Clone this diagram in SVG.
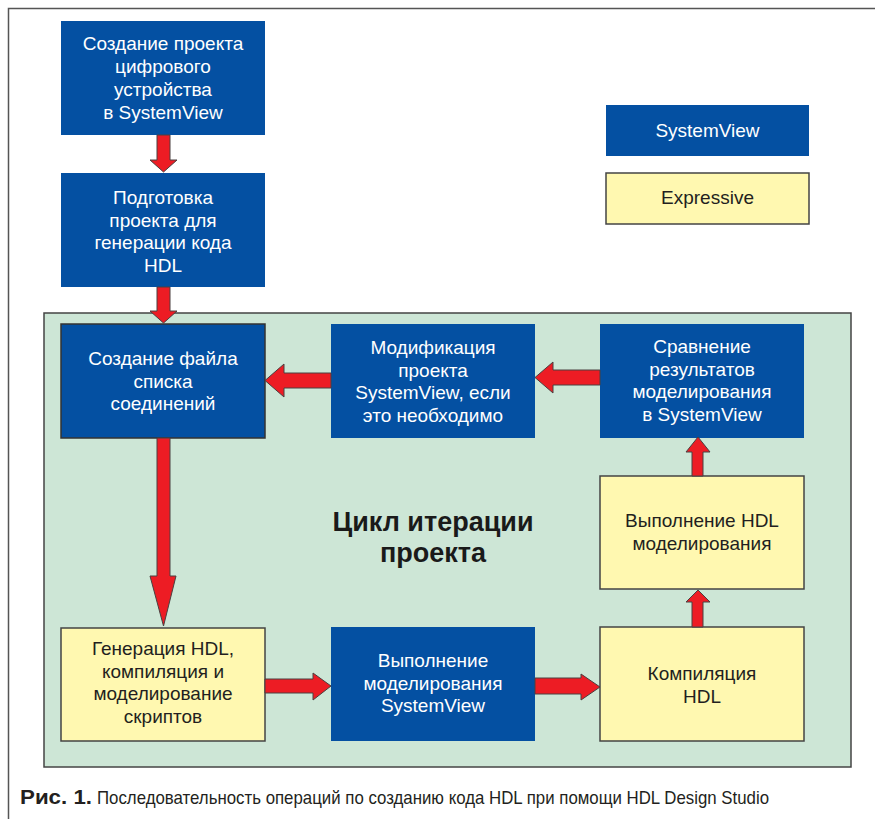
<svg xmlns="http://www.w3.org/2000/svg" width="875" height="819" viewBox="0 0 875 819">
<style>
.blue{fill:#0450A2}
.bb{stroke:#333;stroke-width:1.5}
.yel{fill:#FFF8B0;stroke:#444;stroke-width:1.5}
.tw{font-family:"Liberation Sans",Arial,sans-serif;font-size:19px;fill:#fff;text-anchor:middle}
.tk{font-family:"Liberation Sans",Arial,sans-serif;font-size:19px;fill:#231F20;text-anchor:middle}
.arr{fill:#ED1C24;stroke:#4a4040;stroke-width:1}
.cap{font-family:"Liberation Sans",Arial,sans-serif;fill:#231F20}
</style>
<rect width="875" height="819" fill="#fff"/>
<path d="M8.5 819 V8.5 H875" fill="none" stroke="#555" stroke-width="1.5"/>
<rect x="44" y="313" width="807" height="454" fill="#CDE6D6" stroke="#444" stroke-width="1.5"/>

<g id="n1"><rect class="blue" x="61" y="21" width="204" height="114"/>
<text class="tw" x="163"><tspan x="163" y="50">Создание проекта</tspan><tspan x="163" y="73">цифрового</tspan><tspan x="163" y="96">устройства</tspan><tspan x="163" y="119">в SystemView</tspan></text></g>

<g id="n2"><rect class="blue" x="61" y="173" width="204" height="114"/>
<text class="tw"><tspan x="163" y="204">Подготовка</tspan><tspan x="163" y="226.5">проекта для</tspan><tspan x="163" y="249">генерации кода</tspan><tspan x="163" y="271.5">HDL</tspan></text></g>

<g id="n3"><rect class="blue bb" x="61" y="324" width="204" height="114"/>
<text class="tw"><tspan x="163" y="365">Создание файла</tspan><tspan x="163" y="387.5">списка</tspan><tspan x="163" y="410">соединений</tspan></text></g>

<g id="n4"><rect class="blue" x="331" y="324" width="204" height="114"/>
<text class="tw"><tspan x="433" y="354">Модификация</tspan><tspan x="433" y="376.5">проекта</tspan><tspan x="433" y="399">SystemView, если</tspan><tspan x="433" y="421.5">это необходимо</tspan></text></g>

<g id="n5"><rect class="blue" x="600" y="324" width="204" height="114"/>
<text class="tw"><tspan x="702" y="353">Сравнение</tspan><tspan x="702" y="375.5">результатов</tspan><tspan x="702" y="398">моделирования</tspan><tspan x="702" y="420.5">в SystemView</tspan></text></g>

<g id="n6"><rect class="yel" x="600" y="476" width="204" height="113"/>
<text class="tk"><tspan x="702" y="527">Выполнение HDL</tspan><tspan x="702" y="549.5">моделирования</tspan></text></g>

<g id="n7"><rect class="yel" x="600" y="627" width="204" height="114"/>
<text class="tk"><tspan x="702" y="680">Компиляция</tspan><tspan x="702" y="702.5">HDL</tspan></text></g>

<g id="n8"><rect class="blue" x="331" y="627" width="204" height="114"/>
<text class="tw"><tspan x="433" y="667">Выполнение</tspan><tspan x="433" y="689.5">моделирования</tspan><tspan x="433" y="712">SystemView</tspan></text></g>

<g id="n9"><rect class="yel" x="61" y="628" width="204" height="113"/>
<text class="tk"><tspan x="163" y="655">Генерация HDL,</tspan><tspan x="163" y="677.5">компиляция и</tspan><tspan x="163" y="700">моделирование</tspan><tspan x="163" y="722.5">скриптов</tspan></text></g>

<g id="legend-sv"><rect class="blue" x="606" y="105" width="203" height="51"/>
<text class="tw" x="707.5" y="137">SystemView</text></g>
<g id="legend-ex"><rect class="yel" x="606" y="173" width="203" height="51"/>
<text class="tk" x="707.5" y="204">Expressive</text></g>

<g id="title"><text font-family="'Liberation Sans',Arial,sans-serif" font-weight="bold" font-size="27" fill="#1a1a1a" text-anchor="middle"><tspan x="433" y="531">Цикл итерации</tspan><tspan x="433" y="562">проекта</tspan></text></g>

<g id="connectors">
<polygon class="arr" points="157,135 170,135 170,160 177,160 163.5,172 150,160 157,160"/>
<polygon class="arr" points="157,287 170,287 170,311 177,311 163.5,323 150,311 157,311"/>
<polygon class="arr" points="157,438 170,438 170,576 176,576 163.5,626 150,576 157,576"/>
<polygon class="arr" points="265,679 313,679 313,673 331,686 313,700 313,693 265,693"/>
<polygon class="arr" points="535,678 581,678 581,674 600,687 581,700 581,694 535,694"/>
<polygon class="arr" points="692,476 692,452 686,452 698,437 710,452 703,452 703,476"/>
<polygon class="arr" points="692,627 692,602 686,602 698,590 710,602 703,602 703,627"/>
<polygon class="arr" points="331,373 284,373 284,364 265,380.5 284,397 284,388 331,388"/>
<polygon class="arr" points="600,370 553,370 553,362 535,377.5 553,393 553,385 600,385"/>
</g>

<g id="caption">
<text class="cap" x="20" y="804" font-size="21" font-weight="bold" textLength="72" lengthAdjust="spacingAndGlyphs">Рис. 1.</text>
<text class="cap" x="97" y="804" font-size="18.5" textLength="672" lengthAdjust="spacingAndGlyphs">Последовательность операций по созданию кода HDL при помощи HDL Design Studio</text>
</g>
</svg>
